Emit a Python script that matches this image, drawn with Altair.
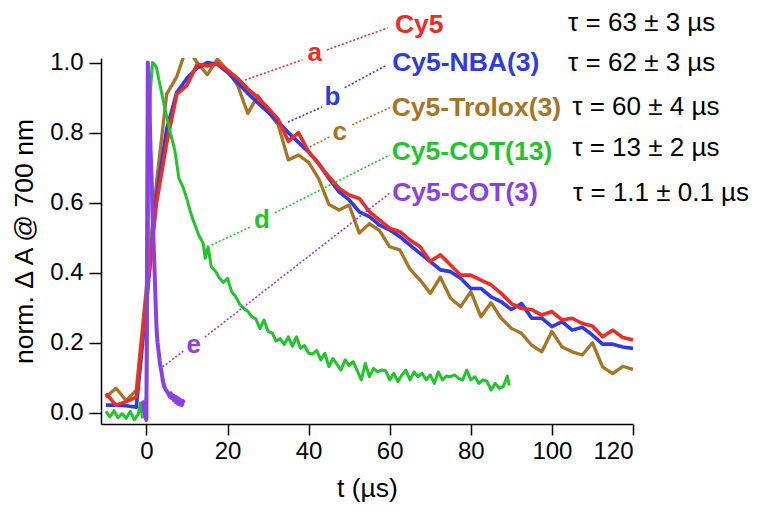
import altair as alt
import pandas as pd

FONT = "Liberation Sans"

# ---- data -------------------------------------------------------------
t_slow = [-10, -7.5, -5, -2.5, 0, 2.5, 5, 7.5, 10, 12.5, 15, 17.5, 20, 22.5, 25, 27.5,
          30, 32.5, 35, 37.5, 40, 42.5, 45, 47.5, 50, 52.5, 55, 57.5, 60, 62.5, 65,
          67.5, 70, 72.5, 75, 77.5, 80, 82.5, 85, 87.5, 90, 92.5, 95, 97.5, 100,
          102.5, 105, 107.5, 110, 112.5, 115, 117.5, 120]

cy5 = [0.055, 0.022, 0.032, 0.045, 0.33, 0.60, 0.77, 0.91, 0.935, 0.995, 0.99, 0.997,
       0.978, 0.955, 0.925, 0.900, 0.870, 0.838, 0.775, 0.800, 0.745, 0.710, 0.674,
       0.641, 0.622, 0.612, 0.574, 0.550, 0.527, 0.517, 0.493, 0.474, 0.432, 0.451,
       0.422, 0.393, 0.393, 0.379, 0.365, 0.341, 0.312, 0.298, 0.295, 0.279, 0.289,
       0.265, 0.270, 0.255, 0.248, 0.217, 0.236, 0.215, 0.208]

nba = [0.022, 0.022, 0.020, 0.016, 0.31, 0.62, 0.81, 0.915, 0.955, 0.985, 1.0, 0.995,
       0.972, 0.942, 0.912, 0.885, 0.858, 0.830, 0.800, 0.772, 0.745, 0.712, 0.669,
       0.631, 0.608, 0.574, 0.560, 0.536, 0.522, 0.503, 0.479, 0.455, 0.432, 0.408,
       0.403, 0.384, 0.355, 0.355, 0.331, 0.317, 0.295, 0.312, 0.270, 0.270, 0.246,
       0.260, 0.236, 0.244, 0.222, 0.196, 0.196, 0.188, 0.184]

trolox = [0.045, 0.070, 0.035, 0.065, 0.36, 0.66, 0.91, 0.96, 1.045, 1.0, 0.965, 1.01,
          0.978, 0.935, 0.855, 0.905, 0.860, 0.822, 0.722, 0.736, 0.715, 0.668, 0.595,
          0.579, 0.593, 0.513, 0.540, 0.520, 0.474, 0.465, 0.410, 0.379, 0.341, 0.387,
          0.327, 0.303, 0.346, 0.274, 0.314, 0.270, 0.241, 0.227, 0.193, 0.174, 0.232,
          0.188, 0.174, 0.165, 0.200, 0.131, 0.112, 0.133, 0.124]

t_cot13 = [-10, -9, -8, -7, -6, -5, -4, -3, -2, -1.5, -1, -0.5, 0, 0.5, 1, 1.5, 2, 2.5,
           3, 4, 5, 6, 7, 8, 9, 10, 11, 12, 13, 14, 14.5, 15.2, 16, 17, 18, 19, 20, 21,
           22, 23, 24, 25, 26, 27, 28, 29, 30, 31, 32, 33, 34, 35, 36, 37, 38, 39, 40,
           41, 42, 43, 44, 45, 46, 47, 48, 49, 50, 51, 52, 53, 54, 55, 56, 57, 58, 59,
           60, 61, 62, 63, 64, 65, 66, 67, 68, 69, 70, 71, 72, 73, 74, 75, 76, 77, 78,
           79, 80, 81, 82, 83, 84, 85, 86, 87, 88, 89, 89.5]
cot13 = [0.004, -0.012, 0.006, -0.014, -0.002, -0.016, 0.004, -0.020, -0.004, 0.028,
         -0.012, -0.008, 0.05, 0.50, 0.92, 1.0, 0.995, 0.985, 0.955, 0.90, 0.845, 0.795,
         0.75, 0.67, 0.645, 0.61, 0.568, 0.535, 0.505, 0.484, 0.441, 0.474, 0.417,
         0.405, 0.385, 0.372, 0.384, 0.346, 0.332, 0.310, 0.298, 0.290, 0.274, 0.268,
         0.240, 0.265, 0.232, 0.228, 0.205, 0.212, 0.195, 0.217, 0.190, 0.217, 0.184,
         0.192, 0.170, 0.168, 0.178, 0.151, 0.170, 0.132, 0.155, 0.138, 0.122, 0.151,
         0.135, 0.146, 0.120, 0.094, 0.141, 0.103, 0.127, 0.117, 0.122, 0.120, 0.094,
         0.113, 0.089, 0.108, 0.122, 0.094, 0.117, 0.103, 0.113, 0.094, 0.108, 0.084,
         0.117, 0.094, 0.105, 0.103, 0.108, 0.098, 0.094, 0.122, 0.094, 0.103, 0.084,
         0.094, 0.090, 0.065, 0.084, 0.070, 0.075, 0.105, 0.078]

t_cot3 = [-1.0, -0.8, -0.6, -0.4, -0.2, 0.0, 0.2, 0.35, 0.5, 0.8, 1.0, 1.25, 1.5, 1.75,
          2.0, 2.25, 2.5, 2.75, 3.0, 3.25, 3.5, 3.75, 4.0, 4.25, 4.5, 4.75, 5.0, 5.25,
          5.5, 5.75, 6.0, 6.25, 6.5, 6.75, 7.0, 7.25, 7.5, 7.75, 8.0, 8.25, 8.5, 8.75,
          9.0, 9.25]
cot3 = [0.020, 0.030, 0.005, 0.015, -0.015, -0.020, 0.60, 1.0, 0.97, 0.84, 0.76, 0.68,
        0.58, 0.49, 0.41, 0.32, 0.24, 0.20, 0.175, 0.15, 0.13, 0.115, 0.095, 0.082,
        0.072, 0.066, 0.062, 0.058, 0.052, 0.046, 0.056, 0.042, 0.050, 0.036, 0.047,
        0.030, 0.044, 0.026, 0.040, 0.024, 0.036, 0.022, 0.034, 0.028]

series_names = ["Cy5", "Cy5-NBA(3)", "Cy5-Trolox(3)", "Cy5-COT(13)", "Cy5-COT(3)"]
series_colors = ["#ef2b23", "#2e3ae6", "#a87421", "#1fc62b", "#8b3fe8"]
series_widths = [3.6, 3.6, 3.3, 3.0, 4.0]
tau_texts = ["τ = 63 ± 3 µs", "τ = 62 ± 3 µs", "τ = 60 ± 4 µs",
             "τ = 13 ± 2 µs", "τ = 1.1 ± 0.1 µs"]
letters = ["a", "b", "c", "d", "e"]

# annotation anchors (in data units)
label_t = [61.3, 60.6, 60.5, 60.5, 60.6]
label_v = [1.108, 0.999, 0.871, 0.745, 0.628]
tau_t = [104.0, 104.0, 105.0, 105.0, 105.2]
tau_v = [1.114, 0.999, 0.873, 0.756, 0.628]
letter_t = [41.5, 45.9, 47.7, 28.5, 11.7]
letter_v = [1.028, 0.902, 0.802, 0.550, 0.193]
# dotted leader segments: (series index, t1, v1, t2, v2)
seg_idx = [0, 0, 1, 1, 2, 2, 3, 3, 4, 4]
seg_t1 = [24.3, 44.5, 34.9, 48.9, 40.3, 50.7, 16.1, 31.7, 4.0, 14.4]
seg_v1 = [0.950, 1.036, 0.830, 0.928, 0.759, 0.822, 0.479, 0.571, 0.131, 0.216]
seg_t2 = [38.5, 59.5, 43.3, 59.3, 45.2, 60.0, 25.5, 60.0, 9.45, 60.0]
seg_v2 = [1.008, 1.099, 0.873, 0.993, 0.788, 0.871, 0.530, 0.736, 0.179, 0.627]

# ---- chart ------------------------------------------------------------
xscale = alt.Scale(domain=[-11.2, 120], nice=False, zero=False)
yscale = alt.Scale(domain=[-0.032, 1.013], nice=False, zero=False)

xaxis = alt.Axis(values=[0, 20, 40, 60, 80, 100, 120], format="d", title="t (µs)",
                 grid=False, tickSize=11, labelPadding=4, titlePadding=12)
yaxis = alt.Axis(values=[0, 0.2, 0.4, 0.6, 0.8, 1.0], format=".1f",
                 title="norm. Δ A @ 700 nm", grid=False, tickSize=12,
                 labelPadding=6, titlePadding=11)

series_data = [
    (t_slow, trolox, 2),
    (t_slow, nba, 1),
    (t_slow, cy5, 0),
    (t_cot13, cot13, 3),
    (t_cot3, cot3, 4),
]

layers = []
for ts, vs, i in series_data:
    df = pd.DataFrame({"t": ts, "v": vs})
    layers.append(
        alt.Chart(df).mark_line(color=series_colors[i], strokeWidth=series_widths[i],
                                clip=True, strokeJoin="round")
        .encode(x=alt.X("t:Q", scale=xscale, axis=xaxis),
                y=alt.Y("v:Q", scale=yscale, axis=yaxis))
    )

color_scale = alt.Scale(domain=series_names, range=series_colors)

seg_df = pd.DataFrame({
    "series": [series_names[i] for i in seg_idx],
    "t1": seg_t1, "v1": seg_v1, "t2": seg_t2, "v2": seg_v2,
})
layers.append(
    alt.Chart(seg_df).mark_rule(strokeDash=[2, 2], strokeWidth=1.6, clip=False)
    .encode(x=alt.X("t1:Q", scale=xscale), x2="t2:Q",
            y=alt.Y("v1:Q", scale=yscale), y2="v2:Q",
            color=alt.Color("series:N", scale=color_scale, legend=None))
)

lab_df = pd.DataFrame({"series": series_names, "t": label_t, "v": label_v})
layers.append(
    alt.Chart(lab_df).mark_text(font=FONT, fontSize=26.5, fontWeight="bold",
                                align="left", baseline="middle", clip=False)
    .encode(x=alt.X("t:Q", scale=xscale), y=alt.Y("v:Q", scale=yscale),
            text="series:N",
            color=alt.Color("series:N", scale=color_scale, legend=None))
)

let_df = pd.DataFrame({"series": series_names, "letter": letters,
                       "t": letter_t, "v": letter_v})
layers.append(
    alt.Chart(let_df).mark_text(font=FONT, fontSize=26, fontWeight="bold",
                                align="center", baseline="middle", clip=False)
    .encode(x=alt.X("t:Q", scale=xscale), y=alt.Y("v:Q", scale=yscale),
            text="letter:N",
            color=alt.Color("series:N", scale=color_scale, legend=None))
)

tau_df = pd.DataFrame({"tau": tau_texts, "t": tau_t, "v": tau_v})
layers.append(
    alt.Chart(tau_df).mark_text(font=FONT, fontSize=26, color="black",
                                align="left", baseline="middle", clip=False)
    .encode(x=alt.X("t:Q", scale=xscale), y=alt.Y("v:Q", scale=yscale),
            text="tau:N")
)

chart = (
    alt.layer(*layers)
    .properties(width=532, height=366,
                autosize=alt.AutoSizeParams(type="none"),
                padding={"left": 93, "top": 50, "right": 116, "bottom": 80})
    .configure_view(stroke=None)
    .configure_axis(domainColor="black", domainWidth=1.5, tickColor="black",
                    tickWidth=1.5, labelColor="black", titleColor="black",
                    labelFont=FONT, titleFont=FONT, labelFontSize=24,
                    titleFontSize=26.5, titleFontWeight="normal")
)

chart.save("out.html", embed_options={"renderer": "svg", "actions": False})
